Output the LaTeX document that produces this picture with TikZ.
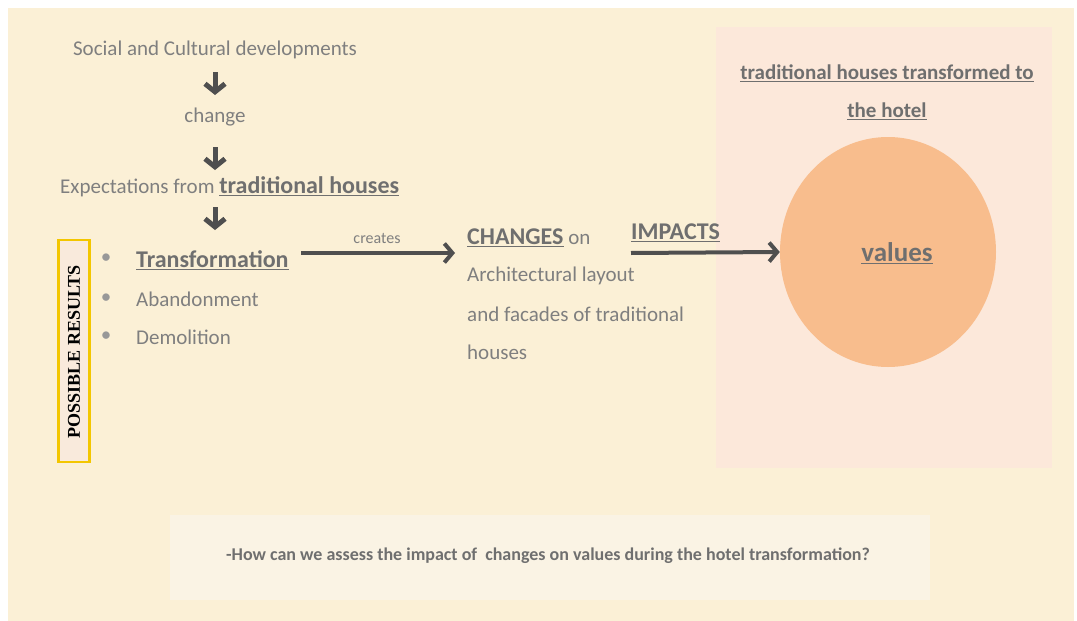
\documentclass[tikz,border=0pt]{standalone}
\usepackage{fontspec}
\setmainfont{Carlito}
\newfontfamily\serifbold{Liberation Serif}
\usetikzlibrary{arrows.meta,shapes.geometric}
\definecolor{paper}{HTML}{FBF0D6}
\definecolor{panel}{HTML}{FCE8DA}
\definecolor{blob}{HTML}{F8BD8D}
\definecolor{qbox}{HTML}{FAF3E4}
\definecolor{txt}{HTML}{7F7F7F}
\definecolor{txtdark}{HTML}{6F6F6F}
\definecolor{arrowc}{HTML}{4F4F4F}
\definecolor{gold}{HTML}{F3C600}
\definecolor{goldfill}{HTML}{F9EADC}
\tikzset{
  plain/.style={text=txt, font=\fontsize{21}{25}\selectfont, inner sep=0pt},
  small/.style={text=txt, font=\fontsize{16}{19}\selectfont, inner sep=0pt},
  strong/.style={text=txtdark, font=\bfseries\fontsize{24}{28}\selectfont, inner sep=0pt},
  downarrow/.style={draw=arrowc, line width=5pt, -{Straight Barb[length=8pt, width=20pt]}},
  sidearrow/.style={draw=arrowc, line width=4pt, -{Straight Barb[length=8pt, width=19pt]}},
}
\begin{document}
\begin{tikzpicture}[x=1pt, y=-1pt]
  % page and paper
  \fill[white] (0,0) rectangle (1077,621);
  \useasboundingbox (0,0) rectangle (1077,621);
  \fill[paper] (8,8) rectangle (1074,621);

  % right panel with the values blob
  \fill[panel] (716,27) rectangle (1052,468);
  \node[fill=blob, ellipse, minimum width=216pt, minimum height=230pt, inner sep=0pt] (values) at (888,252) {};
  \node[text=txtdark, font=\bfseries\fontsize{27}{31}\selectfont, inner sep=0pt] (valuestxt) at (897,253) {\underline{values}};
  \node[text=txtdark, font=\bfseries\fontsize{21}{25}\selectfont, inner sep=0pt] (panelt1) at (887,73) {\underline{traditional houses transformed to}};
  \node[text=txtdark, font=\bfseries\fontsize{21}{25}\selectfont, inner sep=0pt] (panelt2) at (887,111) {\underline{the hotel}};

  % question box
  \fill[qbox] (170,515) rectangle (930,600);
  \node[text=txtdark, font=\bfseries\fontsize{18}{21}\selectfont, inner sep=0pt] (question) at (548,556)
    {-How can we assess the impact of\ \ changes on values during the hotel transformation?};

  % chain of causes
  \node[plain] (social) at (215,50) {Social and Cultural developments};
  \node[plain] (change) at (215,117) {change};
  \node[plain, anchor=west] (expect) at (60,187) {Expectations from \textcolor{txtdark}{\bfseries\fontsize{24}{28}\selectfont\underline{traditional houses}}};
  \coordinate (a1s) at (215,72);  \coordinate (a1e) at (215,95);
  \coordinate (a2s) at (215,147); \coordinate (a2e) at (215,170);
  \coordinate (a3s) at (215,207); \coordinate (a3e) at (215,230);
  \draw[downarrow] (a1s) -- (a1e);
  \draw[downarrow] (a2s) -- (a2e);
  \draw[downarrow] (a3s) -- (a3e);

  % possible results
  \node[draw=gold, fill=goldfill, line width=2.5pt, minimum width=31pt, minimum height=222pt, inner sep=0pt] (resbox) at (74,351) {};
  \node[rotate=90, font=\serifbold\bfseries\fontsize{18}{21}\selectfont, text=black] (restxt) at (74,352) {POSSIBLE RESULTS};
  \node[plain, text=txt!80] (b1) at (106,259) {•};
  \node[plain, text=txt!80] (b2) at (106,299) {•};
  \node[plain, text=txt!80] (b3) at (106,337) {•};
  \node[strong, anchor=west] (transf) at (136,260) {\underline{Transformation}};
  \node[plain, anchor=west] (aband) at (136,299) {Abandonment};
  \node[plain, anchor=west] (demol) at (136,337) {Demolition};

  % creates -> changes
  \coordinate (c1) at (301,253);
  \coordinate (c2) at (455,253);
  \draw[sidearrow] (c1) -- (c2);
  \node[small] (creates) at (377,238) {creates};

  \node[plain, anchor=west] (changes) at (467,238) {\textcolor{txtdark}{\bfseries\fontsize{24}{28}\selectfont\underline{CHANGES}} on};
  \node[plain, anchor=west] (arch1) at (467,276) {Architectural layout};
  \node[plain, anchor=west] (arch2) at (467,314) {and facades of traditional};
  \node[plain, anchor=west] (arch3) at (467,352) {houses};

  % impacts -> values
  \node[strong, anchor=west] (impacts) at (631,233) {\underline{IMPACTS}};
  \coordinate (i1) at (631,253);
  \draw[sidearrow] (i1) -- (values.west);
\end{tikzpicture}
\end{document}
